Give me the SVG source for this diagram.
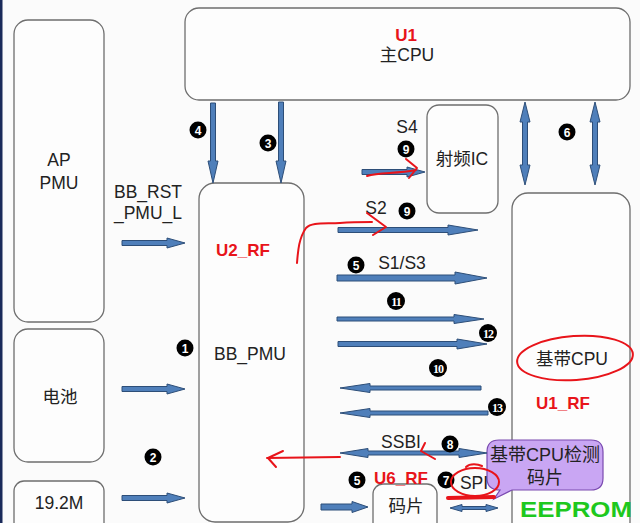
<svg xmlns="http://www.w3.org/2000/svg" width="640" height="523" viewBox="0 0 640 523">
<style>
.box{fill:#fdfdfd;stroke:#6e6e6e;stroke-width:1.3}
.t{font-family:"Liberation Sans","Noto Sans CJK SC",sans-serif;font-size:17.5px;fill:#222;text-anchor:middle}
.r{font-family:"Liberation Sans",sans-serif;font-size:17px;font-weight:bold;fill:#e8141a;text-anchor:middle}
.arr{fill:#4f7fba;stroke:#2d4e78;stroke-width:1;stroke-linejoin:miter}
.nc{fill:#000}
.nt{font-family:"Liberation Sans",sans-serif;font-size:12px;font-weight:bold;fill:#fff;text-anchor:middle}
.nt2{font-family:"Liberation Serif",serif;font-size:12px;font-weight:bold;fill:#fff;text-anchor:middle;letter-spacing:-1px}
.red{fill:none;stroke:#e8141a;stroke-width:2;stroke-linecap:round;stroke-linejoin:round}
</style>
<rect x="0" y="0" width="640" height="523" fill="#fbfbfb"/>
<rect x="0" y="0" width="2.5" height="523" fill="#1a2a5a"/>

<g id="ap_pmu"><rect class="box" x="14" y="20" width="90" height="302" rx="14"/><text class="t" x="59" y="166">AP</text><text class="t" x="59" y="189">PMU</text></g>
<g id="battery"><rect class="box" x="14" y="329" width="90" height="133" rx="14"/><text class="t" x="60" y="403">电池</text></g>
<g id="xtal"><rect class="box" x="14" y="481" width="90" height="60" rx="10"/><text class="t" x="59" y="509">19.2M</text></g>
<g id="u1"><rect class="box" x="185" y="8" width="445" height="92" rx="14"/><text class="r" x="406" y="41">U1</text><text class="t" x="407" y="61">主CPU</text></g>
<g id="bbpmu"><rect class="box" x="199" y="183" width="105" height="339" rx="16"/><text class="r" x="243" y="256">U2_RF</text><text class="t" x="250" y="360">BB_PMU</text></g>
<g id="rfic"><rect class="box" x="427" y="105" width="71" height="108" rx="12"/><text class="t" x="462" y="165">射频IC</text></g>
<g id="u1rf"><rect class="box" x="512" y="193" width="118" height="345" rx="16"/><text class="t" x="572" y="365">基带CPU</text><text class="r" x="563" y="409">U1_RF</text></g>
<g id="chip"><rect class="box" x="373" y="484" width="64" height="50" rx="10"/><text class="t" x="406" y="512">码片</text></g>
<g id="eeprom"><text x="520" y="517" font-family="Liberation Sans,sans-serif" font-size="22" font-weight="bold" fill="#1ec81e" textLength="112" lengthAdjust="spacingAndGlyphs">EEPROM</text></g>
<g id="callout"><path d="M499 440 H591 Q603 440 603 452 V478 Q603 490 591 490 H512 L494 499 L500 490 Q487 490 487 478 V452 Q487 440 499 440 Z" fill="#c9a6f3" stroke="#7a4ab0" stroke-width="1.2"/><text class="t" x="545" y="461" style="font-size:18px">基带CPU检测</text><text class="t" x="545" y="484" style="font-size:18px">码片</text></g>

<g id="connectors">
<path class="arr" d="M210.5 103 L215.5 103 L215.5 161 L218 161 L213 183 L208 161 L210.5 161 Z"/>
<path class="arr" d="M278.5 102 L283.5 102 L283.5 161 L286 161 L281 183 L276 161 L278.5 161 Z"/>
<path class="arr" d="M525 102 L530 122 L527.5 122 L527.5 165 L530 165 L525 185 L520 165 L522.5 165 L522.5 122 L520 122 Z"/>
<path class="arr" d="M595 102 L600 122 L597.5 122 L597.5 165 L600 165 L595 185 L590 165 L592.5 165 L592.5 122 L590 122 Z"/>
<path class="arr" d="M122 240.5 L167 240.5 L167 238 L185 243 L167 248 L167 245.5 L122 245.5 Z"/>
<path class="arr" d="M122 386.5 L167 386.5 L167 384 L185 389 L167 394 L167 391.5 L122 391.5 Z"/>
<path class="arr" d="M122 495.5 L167 495.5 L167 493 L185 498 L167 503 L167 500.5 L122 500.5 Z"/>
<path class="arr" d="M362 169.5 L407 169.5 L407 167 L425 172 L407 177 L407 174.5 L362 174.5 Z"/>
<path class="arr" d="M338 227.5 L448 227.5 L448 225 L478 230 L448 235 L448 232.5 L338 232.5 Z"/>
<path class="arr" d="M337 275 L455 275 L455 272 L487 278 L455 284 L455 281 L337 281 Z"/>
<path class="arr" d="M337 317 L454 317 L454 314.5 L484 319 L454 323.5 L454 321 L337 321 Z"/>
<path class="arr" d="M338 341.5 L457 341.5 L457 339 L487 344 L457 349 L457 346.5 L338 346.5 Z"/>
<path class="arr" d="M481 386 L370 386 L370 383.5 L340 388 L370 392.5 L370 390 L481 390 Z"/>
<path class="arr" d="M488 411 L370 411 L370 408.5 L340 413 L370 417.5 L370 415 L488 415 Z"/>
<path class="arr" d="M340 453 L368 448.5 L368 451 L459 451 L459 448.5 L487 453 L459 457.5 L459 455 L368 455 L368 457.5 Z"/>
<path class="arr" d="M321 504 L352 504 L352 501.5 L368 507 L352 512.5 L352 510 L321 510 Z"/>
<path class="arr" d="M450 508 L462 504.5 L462 506.5 L486 506.5 L486 504.5 L498 508 L486 511.5 L486 509.5 L462 509.5 L462 511.5 Z"/>
</g>

<g id="labels">
<text class="t" x="148" y="198">BB_RST</text>
<text class="t" x="148" y="219">_PMU_L</text>
<text class="t" x="407" y="133">S4</text>
<text class="t" x="376" y="214">S2</text>
<text class="t" x="402" y="269">S1/S3</text>
<text class="t" x="401" y="448">SSBI</text>
<text class="r" x="401" y="484">U6_RF</text>
<text class="t" x="474" y="489">SPI</text>
</g>

<g id="numbers">
<circle class="nc" cx="198" cy="130" r="8.5"/><text class="nt" x="198" y="134.5">4</text>
<circle class="nc" cx="268" cy="143" r="8.5"/><text class="nt" x="268" y="147.5">3</text>
<circle class="nc" cx="406" cy="149" r="8.5"/><text class="nt" x="406" y="153.5">9</text>
<circle class="nc" cx="567" cy="132" r="8.5"/><text class="nt" x="567" y="136.5">6</text>
<circle class="nc" cx="407" cy="211" r="8.5"/><text class="nt" x="407" y="215.5">9</text>
<circle class="nc" cx="356" cy="265" r="8.5"/><text class="nt" x="356" y="269.5">5</text>
<circle class="nc" cx="396" cy="301" r="9"/><text class="nt2" x="396" y="305.5">11</text>
<circle class="nc" cx="488" cy="333" r="9"/><text class="nt2" x="488" y="337.5">12</text>
<circle class="nc" cx="438" cy="368" r="9"/><text class="nt2" x="438" y="372.5">10</text>
<circle class="nc" cx="497" cy="407" r="9"/><text class="nt2" x="497" y="411.5">13</text>
<circle class="nc" cx="450" cy="444" r="8.5"/><text class="nt" x="450" y="448.5">8</text>
<circle class="nc" cx="185" cy="348" r="8.5"/><text class="nt" x="185" y="352.5">1</text>
<circle class="nc" cx="153" cy="457" r="8.5"/><text class="nt" x="153" y="461.5">2</text>
<circle class="nc" cx="357" cy="480" r="8.5"/><text class="nt" x="357" y="484.5">5</text>
<circle class="nc" cx="446" cy="480" r="8.5"/><text class="nt" x="446" y="484.5">7</text>
</g>

<g id="annotations">
<path class="red" d="M367 176 C380 172 395 174 416 170"/>
<path class="red" d="M406 159 L417 168 L409 178"/>
<path class="red" d="M297 263 C298 250 299 238 306 228 C312 222 325 224 340 223 C352 222 362 222 372 222"/>
<path class="red" d="M367 213 L386 227 L373 235"/>
<path class="red" d="M267 458 L340 457"/>
<path class="red" d="M283 451 L268 458 L276 467"/>
<path class="red" d="M425 443 L421 451 L435 459"/>
<ellipse class="red" cx="475" cy="482" rx="24" ry="14"/>
<path class="red" d="M466 467 C470 463 478 464 482 466"/>
<path class="red" d="M448 498 L494 497" style="stroke-width:4"/>
<ellipse class="red" cx="575" cy="358" rx="58" ry="22" transform="rotate(-4 575 358)"/>
</g>
</svg>
